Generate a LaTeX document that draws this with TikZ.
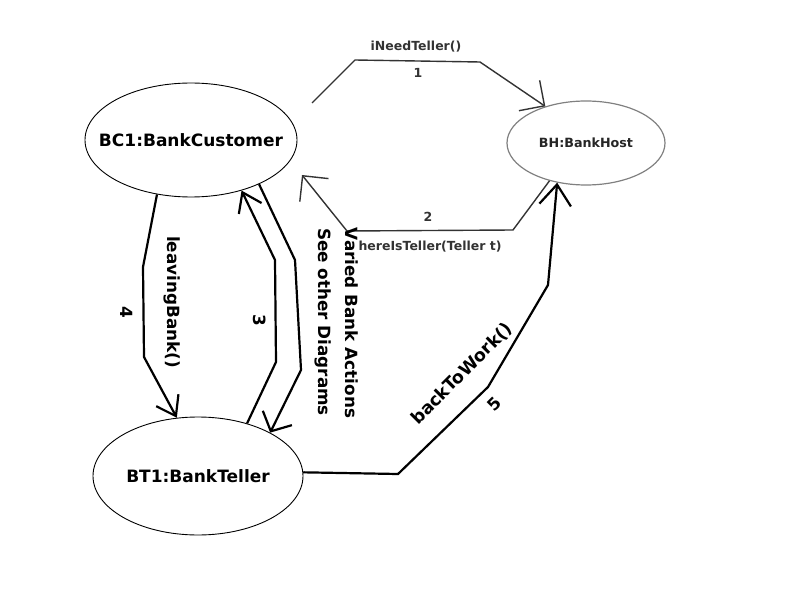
\documentclass[tikz,border=0pt]{standalone}
\usepackage{fontspec}
\setmainfont{DejaVu Sans}
\usetikzlibrary{shapes.geometric,arrows.meta}

\tikzset{
  obj/.style={draw, ellipse, line width=0.9pt, inner xsep=-30pt, inner ysep=0pt, font=\bfseries\fontsize{17}{19}\selectfont},
  msg/.style={draw=black!80, line width=1.4pt, -{Straight Barb[angle=90:26pt]}},
  call/.style={line width=2.2pt, -{Straight Barb[angle=70:22pt]}},
  lbl/.style={text=black!80, font=\bfseries\fontsize{12.5}{14}\selectfont},
  biglbl/.style={font=\bfseries\fontsize{16.8}{19}\selectfont}
}

\begin{document}
\begin{tikzpicture}[x=1pt,y=-1pt]
    \useasboundingbox (0,0) rectangle (792,612);

    % Objects
    \node[obj, minimum width=212pt, minimum height=114pt] (bc1) at (191,140) {BC1:BankCustomer};
    \node[obj, minimum width=210pt, minimum height=118pt] (bt1) at (198,476) {BT1:BankTeller};
    \node[obj, draw=black!50, line width=1.2pt, text=black!85, minimum width=158pt, minimum height=84pt,
          font=\bfseries\fontsize{12.7}{14}\selectfont] (bh) at (586,143) {BH:BankHost};

    % Free ends
    \coordinate (bc1out) at (312,103);
    \coordinate (bc1in) at (302,175);

    % Messages 1 and 2
    \draw[msg] (bc1out) -- (355,60) -- (480,62) -- (bh.138);
    \node[lbl] (m1) at (416,47) {iNeedTeller()};
    \node[lbl] (n1) at (418,73) {1};
    \draw[msg] (bh.226) -- (513,230) -- (347,231) -- (bc1in);
    \node[lbl] (n2) at (428,217) {2};
    \node[lbl, anchor=west] (m2) at (355,247) {hereIsTeller(Teller t)};

    % Messages 3 and 4
    \draw[call] (bc1.238) -- (143,267) -- (144,357) -- (bt1.110);
    \node[biglbl, rotate=-90] (m4) at (172,302) {leavingBank()};
    \node[biglbl, rotate=-90] (n4) at (127,312) {4};
    \draw[call] (bt1.47) -- (276,362) -- (275,260) -- (bc1.-45);
    \node[biglbl, rotate=-90] (n3) at (260,320) {3};

    % Varied actions
    \draw[call, -{Straight Barb[angle=95:22pt]}] (bc1.-33) -- (295,260) -- (301,370) -- (bt1.31);
    \node[biglbl, rotate=-90] (va) at (352,323) {Varied Bank Actions};
    \node[biglbl, rotate=-90] (vb) at (323,322) {See other Diagrams};

    % Message 5
    \draw[call, -{Straight Barb[angle=75:26pt]}] (bt1.2) -- (398,474) -- (488,387) -- (548,285) -- (bh.234);
    \node[biglbl, font=\bfseries\fontsize{17.5}{19}\selectfont, rotate=45] (m5) at (462,374) {backToWork()};
    \node[biglbl, rotate=45] (n5) at (494,404) {5};
\end{tikzpicture}
\end{document}
